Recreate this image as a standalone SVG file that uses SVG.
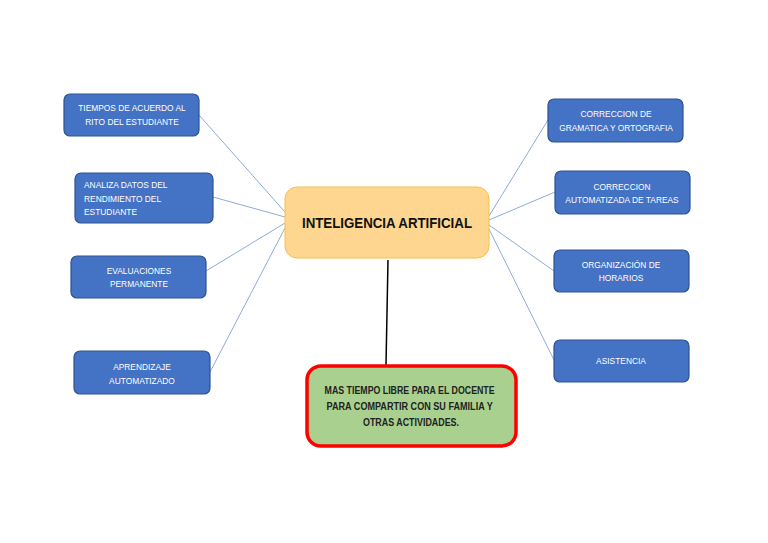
<svg xmlns="http://www.w3.org/2000/svg" width="768" height="543" viewBox="0 0 768 543">
<style>
.b{fill:#4472C4;stroke:#2F528F;stroke-width:1.2}
.t{font-family:"Liberation Sans",Arial,sans-serif;font-size:8.4px;fill:#fff;text-anchor:middle}
.c{stroke:#8FAADC;stroke-width:1;fill:none}
</style>
<rect width="768" height="543" fill="#fff"/>
<g id="connectors">
<line class="c" x1="199" y1="115" x2="285" y2="212"/>
<line class="c" x1="213" y1="197" x2="285" y2="217"/>
<line class="c" x1="206" y1="271" x2="285" y2="223"/>
<line class="c" x1="210" y1="372" x2="285" y2="228"/>
<line class="c" x1="548" y1="120" x2="489" y2="216"/>
<line class="c" x1="555" y1="192" x2="489" y2="220"/>
<line class="c" x1="554" y1="271" x2="489" y2="225"/>
<line class="c" x1="554" y1="360" x2="489" y2="229"/>
<line x1="388" y1="260" x2="386" y2="365" stroke="#000" stroke-width="1.5"/>
</g>
<g id="center">
<rect x="285" y="187" width="204" height="71" rx="12" fill="#FFD68F" stroke="#F5C04A" stroke-width="1"/>
<text x="387" y="228" font-family="'Liberation Sans',Arial,sans-serif" font-size="15" font-weight="bold" fill="#111" text-anchor="middle" textLength="170" lengthAdjust="spacingAndGlyphs">INTELIGENCIA ARTIFICIAL</text>
</g>
<g id="result">
<rect x="307" y="366" width="209" height="80" rx="14" fill="#A9D08E" stroke="#FF0000" stroke-width="3.5"/>
<text font-family="'Liberation Sans',Arial,sans-serif" font-size="10" font-weight="bold" fill="#222" text-anchor="middle">
<tspan x="411" y="394" textLength="170" lengthAdjust="spacingAndGlyphs">MAS TIEMPO LIBRE PARA EL DOCENTE</tspan>
<tspan x="411" y="410" textLength="166" lengthAdjust="spacingAndGlyphs">PARA COMPARTIR CON SU FAMILIA Y</tspan>
<tspan x="411" y="426" textLength="96" lengthAdjust="spacingAndGlyphs">OTRAS ACTIVIDADES.</tspan>
</text>
</g>
<g id="n1">
<rect class="b" x="64" y="94" width="135" height="42" rx="6"/>
<text class="t"><tspan x="132" y="111">TIEMPOS DE ACUERDO AL</tspan><tspan x="132" y="125">RITO DEL ESTUDIANTE</tspan></text>
</g>
<g id="n2">
<rect class="b" x="75" y="173" width="138" height="50" rx="6"/>
<text class="t" style="text-anchor:start"><tspan x="84" y="188">ANALIZA DATOS DEL</tspan><tspan x="84" y="202">RENDIMIENTO DEL</tspan><tspan x="84" y="215">ESTUDIANTE</tspan></text>
</g>
<g id="n3">
<rect class="b" x="71" y="256" width="135" height="42" rx="6"/>
<text class="t"><tspan x="139" y="274">EVALUACIONES</tspan><tspan x="139" y="287">PERMANENTE</tspan></text>
</g>
<g id="n4">
<rect class="b" x="74" y="351" width="136" height="43" rx="6"/>
<text class="t"><tspan x="142" y="370">APRENDIZAJE</tspan><tspan x="142" y="384">AUTOMATIZADO</tspan></text>
</g>
<g id="n5">
<rect class="b" x="548" y="99" width="135" height="43" rx="6"/>
<text class="t"><tspan x="616" y="117">CORRECCION DE</tspan><tspan x="616" y="131">GRAMATICA Y ORTOGRAFIA</tspan></text>
</g>
<g id="n6">
<rect class="b" x="555" y="171" width="135" height="43" rx="6"/>
<text class="t"><tspan x="622" y="190">CORRECCION</tspan><tspan x="622" y="203">AUTOMATIZADA DE TAREAS</tspan></text>
</g>
<g id="n7">
<rect class="b" x="554" y="250" width="135" height="42" rx="6"/>
<text class="t"><tspan x="621" y="268">ORGANIZACIÓN DE</tspan><tspan x="621" y="281">HORARIOS</tspan></text>
</g>
<g id="n8">
<rect class="b" x="554" y="340" width="135" height="42" rx="6"/>
<text class="t"><tspan x="621" y="364">ASISTENCIA</tspan></text>
</g>
</svg>
